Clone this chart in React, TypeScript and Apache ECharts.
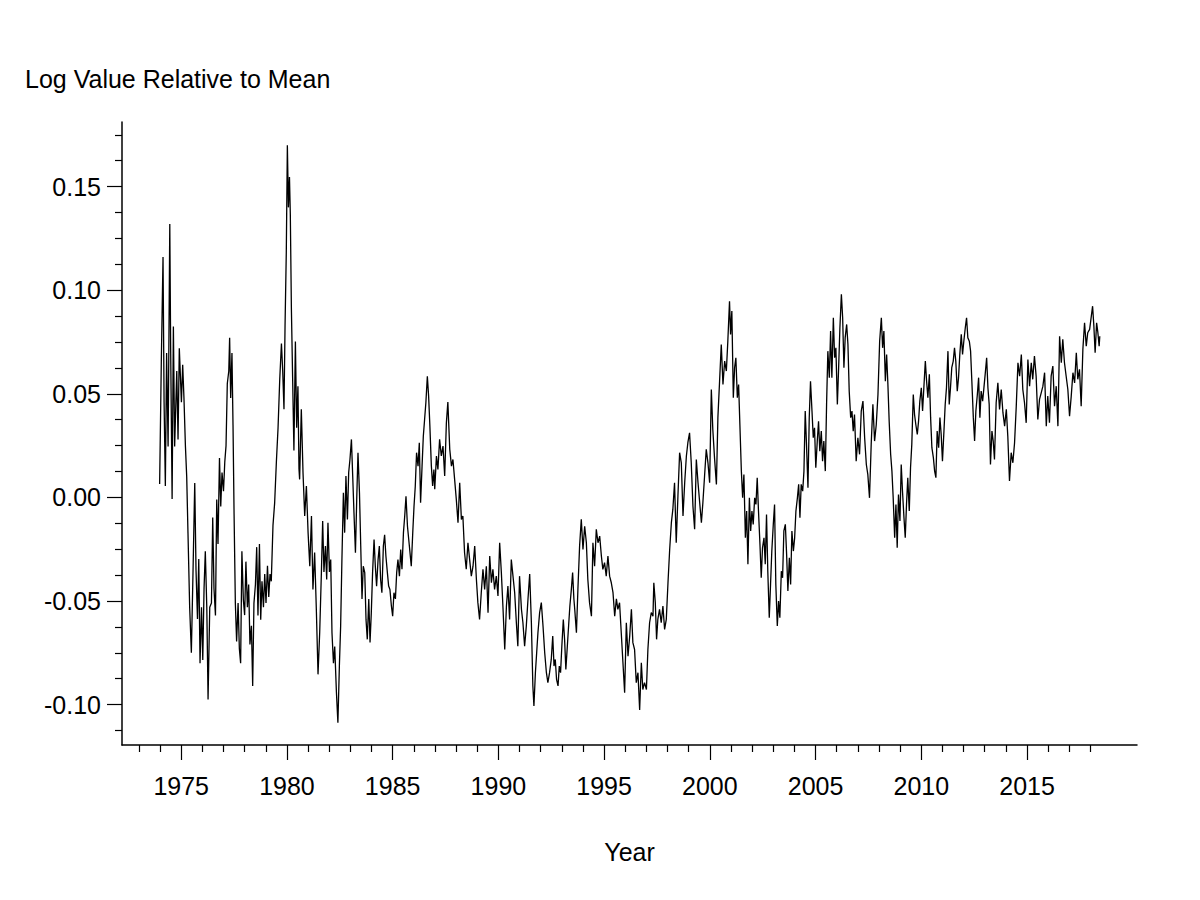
import React, { useEffect, useRef } from "react";
import * as echarts from "echarts";

const s1970s: [number, number][] = [
  [1973.98, 0.0065], [1974.06, 0.066], [1974.14, 0.116], [1974.19, 0.046], [1974.25, 0.0055], [1974.31, 0.0697], [1974.38, 0.0246], [1974.46, 0.132], [1974.5, 0.073], [1974.57, -0.0008], [1974.63, 0.0825], [1974.69, 0.0246], [1974.79, 0.061], [1974.85, 0.028], [1974.91, 0.072], [1975.01, 0.046], [1975.07, 0.064], [1975.13, 0.048], [1975.2, 0.0246], [1975.26, 0.01], [1975.32, -0.017], [1975.4, -0.053], [1975.48, -0.075], [1975.56, -0.035], [1975.64, 0.007], [1975.7, -0.035], [1975.77, -0.0587], [1975.83, -0.0297], [1975.89, -0.08], [1975.96, -0.053], [1976.02, -0.0785], [1976.08, -0.044], [1976.14, -0.026], [1976.21, -0.053], [1976.27, -0.0975], [1976.35, -0.053], [1976.43, -0.051], [1976.49, -0.0097], [1976.55, -0.044], [1976.62, -0.057], [1976.68, -0.001], [1976.74, -0.0225], [1976.81, 0.019], [1976.87, -0.0044], [1976.93, 0.012], [1977.0, 0.003], [1977.06, 0.017], [1977.12, 0.025], [1977.18, 0.055], [1977.25, 0.061], [1977.29, 0.077], [1977.34, 0.048], [1977.4, 0.0697], [1977.45, 0.035], [1977.5, -0.008], [1977.56, -0.051], [1977.62, -0.0695], [1977.69, -0.051], [1977.75, -0.073], [1977.81, -0.08], [1977.87, -0.026], [1977.94, -0.0496], [1978.0, -0.0568], [1978.06, -0.031], [1978.13, -0.053], [1978.19, -0.042], [1978.25, -0.071], [1978.32, -0.062], [1978.38, -0.091], [1978.44, -0.051], [1978.51, -0.042], [1978.57, -0.024], [1978.63, -0.057], [1978.7, -0.0225], [1978.76, -0.059], [1978.82, -0.0405], [1978.89, -0.053], [1978.95, -0.037], [1979.01, -0.051], [1979.08, -0.033], [1979.14, -0.048], [1979.2, -0.037], [1979.26, -0.0405], [1979.34, -0.0135], [1979.42, -0.0025], [1979.5, 0.017], [1979.58, 0.0336], [1979.66, 0.057], [1979.74, 0.0743], [1979.8, 0.061], [1979.86, 0.0426], [1979.91, 0.0825], [1979.97, 0.1187],
];

const s1980s: [number, number][] = [
  [1980.02, 0.17], [1980.07, 0.14], [1980.12, 0.1547], [1980.16, 0.1366], [1980.21, 0.0914], [1980.27, 0.057], [1980.33, 0.0227], [1980.4, 0.0753], [1980.46, 0.0336], [1980.52, 0.0536], [1980.57, 0.0137], [1980.6, 0.0087], [1980.68, 0.0425], [1980.76, 0.012], [1980.84, -0.009], [1980.92, 0.0055], [1981.0, -0.017], [1981.08, -0.0332], [1981.16, -0.009], [1981.23, -0.0444], [1981.31, -0.0266], [1981.39, -0.054], [1981.47, -0.0854], [1981.55, -0.065], [1981.63, -0.036], [1981.69, -0.0114], [1981.75, -0.036], [1981.82, -0.0235], [1981.88, -0.0396], [1981.94, -0.0122], [1982.01, -0.036], [1982.07, -0.03], [1982.13, -0.0653], [1982.2, -0.08], [1982.26, -0.072], [1982.34, -0.094], [1982.41, -0.1087], [1982.48, -0.0814], [1982.54, -0.062], [1982.6, -0.03], [1982.67, 0.0023], [1982.73, -0.017], [1982.79, 0.0103], [1982.86, -0.0106], [1982.92, 0.012], [1982.98, 0.0183], [1983.05, 0.028], [1983.11, 0.0103], [1983.17, -0.0074], [1983.24, -0.0267], [1983.3, -0.001], [1983.36, 0.0216], [1983.43, 0.0023], [1983.49, -0.0235], [1983.55, -0.049], [1983.61, -0.0332], [1983.68, -0.0363], [1983.74, -0.059], [1983.8, -0.0685], [1983.87, -0.049], [1983.93, -0.07], [1983.99, -0.0556], [1984.05, -0.0363], [1984.12, -0.0203], [1984.18, -0.0332], [1984.24, -0.0428], [1984.31, -0.03], [1984.37, -0.0235], [1984.43, -0.0396], [1984.49, -0.046], [1984.56, -0.0235], [1984.62, -0.018], [1984.68, -0.0283], [1984.75, -0.0363], [1984.81, -0.0428], [1984.87, -0.0444], [1984.94, -0.0524], [1985.0, -0.0573], [1985.06, -0.046], [1985.13, -0.049], [1985.19, -0.0363], [1985.25, -0.03], [1985.32, -0.038], [1985.38, -0.0251], [1985.44, -0.0347], [1985.51, -0.017], [1985.57, -0.009], [1985.63, 0.0006], [1985.7, -0.0139], [1985.76, -0.0203], [1985.82, -0.0267], [1985.88, -0.0332], [1985.95, -0.017], [1986.01, -0.0042], [1986.07, 0.0055], [1986.13, 0.0216], [1986.2, 0.0151], [1986.26, 0.0264], [1986.32, -0.0026], [1986.39, 0.0151], [1986.45, 0.0296], [1986.51, 0.0376], [1986.57, 0.0457], [1986.64, 0.0585], [1986.7, 0.0489], [1986.76, 0.0344], [1986.83, 0.0151], [1986.89, 0.0055], [1986.95, 0.0135], [1986.99, 0.0039], [1987.07, 0.02], [1987.14, 0.0135], [1987.22, 0.028], [1987.3, 0.02], [1987.38, 0.0248], [1987.46, 0.0103], [1987.54, 0.036], [1987.61, 0.046], [1987.7, 0.0232], [1987.78, 0.0151], [1987.85, 0.0183], [1987.93, 0.0087], [1988.01, -0.001], [1988.09, -0.0122], [1988.17, 0.0071], [1988.25, -0.0106], [1988.32, -0.009], [1988.4, -0.0267], [1988.48, -0.0347], [1988.56, -0.0219], [1988.64, -0.03], [1988.72, -0.038], [1988.8, -0.0332], [1988.88, -0.0235], [1988.96, -0.0396], [1989.03, -0.0508], [1989.11, -0.0589], [1989.19, -0.046], [1989.27, -0.0347], [1989.35, -0.0444], [1989.43, -0.0332], [1989.51, -0.0556], [1989.59, -0.0283], [1989.67, -0.0412], [1989.74, -0.0347], [1989.82, -0.0444], [1989.9, -0.038], [1989.98, -0.0476],
];

const s1990s: [number, number][] = [
  [1990.06, -0.0219], [1990.14, -0.0363], [1990.22, -0.054], [1990.3, -0.0734], [1990.38, -0.0524], [1990.45, -0.0428], [1990.53, -0.0589], [1990.61, -0.03], [1990.69, -0.038], [1990.77, -0.046], [1990.85, -0.0605], [1990.92, -0.0718], [1991.0, -0.038], [1991.09, -0.054], [1991.16, -0.0605], [1991.24, -0.0718], [1991.32, -0.0621], [1991.4, -0.049], [1991.48, -0.037], [1991.56, -0.0605], [1991.63, -0.091], [1991.68, -0.1007], [1991.75, -0.0846], [1991.81, -0.075], [1991.87, -0.0653], [1991.95, -0.0556], [1992.03, -0.0508], [1992.11, -0.0621], [1992.19, -0.075], [1992.27, -0.0846], [1992.34, -0.0894], [1992.42, -0.0846], [1992.5, -0.0782], [1992.57, -0.0669], [1992.63, -0.0814], [1992.69, -0.0782], [1992.75, -0.0878], [1992.82, -0.091], [1992.88, -0.0814], [1992.94, -0.0846], [1993.0, -0.0718], [1993.07, -0.0589], [1993.13, -0.0685], [1993.19, -0.083], [1993.26, -0.0718], [1993.32, -0.0621], [1993.38, -0.0524], [1993.45, -0.0444], [1993.51, -0.0363], [1993.57, -0.049], [1993.61, -0.054], [1993.69, -0.0653], [1993.76, -0.0444], [1993.84, -0.0235], [1993.92, -0.0106], [1994.0, -0.0251], [1994.08, -0.0139], [1994.16, -0.0219], [1994.23, -0.0396], [1994.31, -0.0508], [1994.4, -0.0573], [1994.47, -0.0219], [1994.55, -0.0332], [1994.63, -0.0154], [1994.71, -0.0219], [1994.79, -0.0187], [1994.87, -0.0283], [1994.94, -0.0347], [1995.02, -0.0315], [1995.1, -0.038], [1995.18, -0.0283], [1995.26, -0.038], [1995.34, -0.0412], [1995.42, -0.046], [1995.5, -0.0573], [1995.58, -0.049], [1995.65, -0.054], [1995.73, -0.0508], [1995.81, -0.0653], [1995.89, -0.0798], [1995.97, -0.0943], [1996.05, -0.0605], [1996.13, -0.0766], [1996.21, -0.0669], [1996.29, -0.054], [1996.36, -0.0701], [1996.44, -0.0734], [1996.52, -0.0894], [1996.6, -0.0846], [1996.68, -0.1026], [1996.76, -0.0798], [1996.83, -0.0927], [1996.91, -0.0894], [1997.0, -0.0927], [1997.07, -0.0734], [1997.15, -0.0605], [1997.23, -0.0556], [1997.31, -0.0573], [1997.35, -0.0412], [1997.42, -0.0508], [1997.48, -0.0685], [1997.54, -0.0589], [1997.62, -0.054], [1997.7, -0.0605], [1997.78, -0.0524], [1997.86, -0.0637], [1997.94, -0.0589], [1998.02, -0.0412], [1998.1, -0.0251], [1998.18, -0.0122], [1998.25, -0.0058], [1998.33, 0.0071], [1998.41, -0.0219], [1998.49, 0.0006], [1998.57, 0.0216], [1998.65, 0.0167], [1998.73, -0.009], [1998.81, 0.0071], [1998.89, 0.02], [1998.96, 0.0264], [1999.04, 0.0312], [1999.12, 0.0167], [1999.2, -0.0042], [1999.28, -0.0154], [1999.36, 0.0183], [1999.44, 0.0071], [1999.52, -0.0026], [1999.6, -0.0122], [1999.67, -0.0026], [1999.75, 0.0103], [1999.83, 0.0232], [1999.91, 0.0167], [1999.99, 0.0071],
];

const s2000s: [number, number][] = [
  [2000.07, 0.0521], [2000.14, 0.0328], [2000.22, 0.0192], [2000.31, 0.0063], [2000.38, 0.0385], [2000.46, 0.0561], [2000.54, 0.0738], [2000.62, 0.0545], [2000.7, 0.0658], [2000.78, 0.061], [2000.85, 0.0754], [2000.93, 0.0947], [2000.98, 0.0787], [2001.04, 0.09], [2001.11, 0.0481], [2001.17, 0.0626], [2001.23, 0.0674], [2001.3, 0.0481], [2001.36, 0.0545], [2001.42, 0.0352], [2001.49, 0.0127], [2001.55, -0.0002], [2001.61, 0.0111], [2001.68, -0.0195], [2001.74, -0.0066], [2001.8, -0.0323], [2001.87, -0.0002], [2001.93, -0.0162], [2001.99, -0.0066], [2002.05, -0.013], [2002.12, -0.0002], [2002.18, -0.0034], [2002.24, 0.0095], [2002.3, -0.0066], [2002.37, -0.0227], [2002.43, -0.0388], [2002.49, -0.0243], [2002.56, -0.0195], [2002.62, -0.0323], [2002.68, -0.0082], [2002.74, -0.0356], [2002.81, -0.0581], [2002.87, -0.042], [2002.93, -0.0259], [2003.0, -0.013], [2003.06, -0.0034], [2003.12, -0.042], [2003.19, -0.0621], [2003.25, -0.05], [2003.31, -0.0581], [2003.38, -0.0356], [2003.44, -0.0388], [2003.5, -0.0162], [2003.57, -0.013], [2003.63, -0.0275], [2003.69, -0.0452], [2003.76, -0.0291], [2003.82, -0.042], [2003.88, -0.0162], [2003.95, -0.0259], [2004.01, -0.0195], [2004.07, -0.0066], [2004.14, -0.0002], [2004.2, 0.0063], [2004.26, -0.0098], [2004.32, 0.0063], [2004.39, 0.003], [2004.45, 0.0127], [2004.51, 0.0417], [2004.57, 0.0256], [2004.64, 0.0047], [2004.7, 0.0385], [2004.76, 0.0561], [2004.83, 0.0417], [2004.89, 0.0288], [2004.95, 0.0336], [2005.01, 0.0143], [2005.08, 0.0272], [2005.14, 0.0368], [2005.2, 0.0223], [2005.27, 0.032], [2005.33, 0.0175], [2005.39, 0.0272], [2005.46, 0.0127], [2005.52, 0.0449], [2005.58, 0.0706], [2005.65, 0.0578], [2005.71, 0.0803], [2005.77, 0.0578], [2005.84, 0.0867], [2005.9, 0.0674], [2005.96, 0.0722], [2006.03, 0.0449], [2006.09, 0.0626], [2006.15, 0.0819], [2006.22, 0.098], [2006.28, 0.0867], [2006.34, 0.0626], [2006.4, 0.0771], [2006.47, 0.0835], [2006.53, 0.0738], [2006.59, 0.0513], [2006.66, 0.0385], [2006.72, 0.0417], [2006.78, 0.032], [2006.84, 0.04], [2006.92, 0.0175], [2007.0, 0.0288], [2007.08, 0.0208], [2007.16, 0.0417], [2007.24, 0.0465], [2007.32, 0.0288], [2007.4, 0.0159], [2007.47, 0.0111], [2007.55, -0.0002], [2007.63, 0.0256], [2007.71, 0.0449], [2007.79, 0.0272], [2007.87, 0.0352], [2007.95, 0.0497], [2008.03, 0.0754], [2008.11, 0.0867], [2008.17, 0.0722], [2008.23, 0.0803], [2008.3, 0.0561], [2008.36, 0.069], [2008.42, 0.0545], [2008.48, 0.0368], [2008.55, 0.0208], [2008.61, 0.0127], [2008.67, -0.0002], [2008.74, -0.0195], [2008.8, -0.0034], [2008.86, -0.0243], [2008.92, 0.0014], [2008.99, -0.0114], [2009.05, 0.0159], [2009.11, 0.003], [2009.18, -0.0098], [2009.24, -0.0195], [2009.3, -0.0034], [2009.36, 0.0095], [2009.43, -0.0066], [2009.49, 0.0143], [2009.55, 0.0256], [2009.62, 0.0497], [2009.68, 0.04], [2009.74, 0.0352], [2009.81, 0.0304], [2009.87, 0.0368], [2009.93, 0.0465],
];

const s2010s: [number, number][] = [
  [2010.0, 0.0529], [2010.06, 0.0417], [2010.12, 0.0529], [2010.19, 0.0658], [2010.25, 0.0561], [2010.31, 0.0481], [2010.38, 0.0594], [2010.44, 0.0385], [2010.5, 0.024], [2010.57, 0.0192], [2010.63, 0.0127], [2010.69, 0.0095], [2010.75, 0.032], [2010.82, 0.024], [2010.88, 0.0385], [2010.94, 0.0304], [2011.0, 0.0175], [2011.07, 0.032], [2011.13, 0.0449], [2011.19, 0.0529], [2011.26, 0.0706], [2011.32, 0.0449], [2011.38, 0.0529], [2011.44, 0.0626], [2011.51, 0.0658], [2011.57, 0.0722], [2011.63, 0.0658], [2011.7, 0.0513], [2011.76, 0.0578], [2011.82, 0.069], [2011.89, 0.0787], [2011.95, 0.069], [2012.01, 0.0754], [2012.08, 0.0819], [2012.14, 0.0867], [2012.2, 0.0771], [2012.27, 0.0754], [2012.33, 0.0706], [2012.39, 0.0561], [2012.46, 0.0385], [2012.52, 0.0272], [2012.58, 0.0417], [2012.65, 0.0497], [2012.71, 0.0578], [2012.77, 0.0385], [2012.83, 0.0513], [2012.9, 0.0465], [2012.96, 0.0529], [2013.02, 0.0594], [2013.09, 0.0674], [2013.15, 0.0529], [2013.21, 0.0449], [2013.27, 0.0159], [2013.34, 0.032], [2013.4, 0.0272], [2013.46, 0.0183], [2013.54, 0.0457], [2013.62, 0.0553], [2013.7, 0.0425], [2013.78, 0.0521], [2013.86, 0.0409], [2013.94, 0.0344], [2014.02, 0.0425], [2014.09, 0.0296], [2014.17, 0.0079], [2014.25, 0.0216], [2014.33, 0.0167], [2014.41, 0.0264], [2014.49, 0.044], [2014.57, 0.065], [2014.65, 0.0585], [2014.73, 0.069], [2014.8, 0.0521], [2014.88, 0.0457], [2014.96, 0.036], [2015.04, 0.0666], [2015.12, 0.0537], [2015.2, 0.065], [2015.27, 0.057], [2015.35, 0.0682], [2015.43, 0.0585], [2015.51, 0.0376], [2015.59, 0.0473], [2015.67, 0.0505], [2015.75, 0.0537], [2015.83, 0.0602], [2015.91, 0.0344], [2015.98, 0.0489], [2016.06, 0.036], [2016.14, 0.0585], [2016.22, 0.0634], [2016.3, 0.044], [2016.38, 0.0537], [2016.46, 0.0344], [2016.54, 0.0778], [2016.62, 0.065], [2016.69, 0.0763], [2016.77, 0.065], [2016.85, 0.0585], [2016.93, 0.0521], [2017.01, 0.0392], [2017.09, 0.0489], [2017.17, 0.0602], [2017.25, 0.0553], [2017.33, 0.0698], [2017.4, 0.057], [2017.48, 0.0618], [2017.56, 0.044], [2017.64, 0.0714], [2017.72, 0.0843], [2017.8, 0.073], [2017.87, 0.0795], [2017.96, 0.0811], [2018.04, 0.0875], [2018.1, 0.0923], [2018.16, 0.0827], [2018.22, 0.0698], [2018.29, 0.0843], [2018.35, 0.0795], [2018.41, 0.073], [2018.44, 0.0778],
];

const yMajorTicks = [-0.1, -0.05, 0, 0.05, 0.1, 0.15];
const yMinorTicks = [-0.1125, -0.0875, -0.075, -0.0625, -0.0375, -0.025, -0.0125, 0.0125, 0.025, 0.0375, 0.0625, 0.075, 0.0875, 0.1125, 0.125, 0.1375, 0.1625, 0.175];
const xMajorTicks = [1975, 1980, 1985, 1990, 1995, 2000, 2005, 2010, 2015];
const xMinorTicks = [1973, 1974, 1976, 1977, 1978, 1979, 1981, 1982, 1983, 1984, 1986, 1987, 1988, 1989, 1991, 1992, 1993, 1994, 1996, 1997, 1998, 1999, 2001, 2002, 2003, 2004, 2006, 2007, 2008, 2009, 2011, 2012, 2013, 2014, 2016, 2017, 2018];

const titleText = "Log Value Relative to Mean";
const xName = "Year";

export default function App() {
  const ref = useRef<HTMLDivElement>(null);
  useEffect(() => {
    if (!ref.current) return;
    const chart = echarts.init(ref.current, null, { renderer: "svg" });
    const font = "'Liberation Sans', Arial, Helvetica, sans-serif";
    const fs = 25;
    const data = [...s1970s, ...s1980s, ...s1990s, ...s2000s, ...s2010s];
    const xMin = 1972.2, xMax = 2020.2, yMin = -0.1195, yMax = 0.1812;
    const lineBlack = { color: "#000", width: 1.5 };
    const tickStyle = { color: "#000", width: 1.2 };
    chart.setOption({
      animation: false,
      backgroundColor: "#fff",
      title: {
        text: titleText,
        left: 25,
        top: 66,
        padding: 0,
        textStyle: { fontFamily: font, fontSize: fs, fontWeight: "normal", color: "#000" },
      },
      grid: { left: 122, right: 63, top: 122, bottom: 155, containLabel: false },
      xAxis: [
        {
          type: "value", min: xMin, max: xMax, position: "bottom",
          axisLine: { show: true, onZero: false, lineStyle: lineBlack },
          axisTick: { show: true, customValues: xMajorTicks, length: 15, lineStyle: tickStyle },
          axisLabel: { customValues: xMajorTicks, formatter: (v: number) => String(Math.round(v)), margin: 28, fontFamily: font, fontSize: fs, color: "#000" },
          splitLine: { show: false },
          name: xName, nameLocation: "middle", nameGap: 94,
          nameTextStyle: { fontFamily: font, fontSize: fs, color: "#000" },
        },
        {
          type: "value", min: xMin, max: xMax, position: "bottom", offset: 0,
          axisLine: { show: false, onZero: false },
          axisTick: { show: true, customValues: xMinorTicks, length: 7, lineStyle: tickStyle },
          axisLabel: { show: false },
          splitLine: { show: false },
        },
      ],
      yAxis: [
        {
          type: "value", min: yMin, max: yMax, position: "left",
          axisLine: { show: true, onZero: false, lineStyle: lineBlack },
          axisTick: { show: true, customValues: yMajorTicks, length: 15, lineStyle: tickStyle },
          axisLabel: { customValues: yMajorTicks, formatter: (v: number) => v.toFixed(2), margin: 21, fontFamily: font, fontSize: fs, color: "#000" },
          splitLine: { show: false },
        },
        {
          type: "value", min: yMin, max: yMax, position: "left", offset: 0,
          axisLine: { show: false, onZero: false },
          axisTick: { show: true, customValues: yMinorTicks, length: 7, lineStyle: tickStyle },
          axisLabel: { show: false },
          splitLine: { show: false },
        },
      ],
      series: [
        {
          type: "line",
          data,
          xAxisIndex: 0,
          yAxisIndex: 0,
          showSymbol: false,
          symbol: "none",
          silent: true,
          lineStyle: { color: "#000", width: 1.3 },
        },
      ],
    });
    return () => chart.dispose();
  }, []);
  return <div ref={ref} style={{ position: "absolute", left: 0, top: 0, width: 1200, height: 900 }} />;
}
